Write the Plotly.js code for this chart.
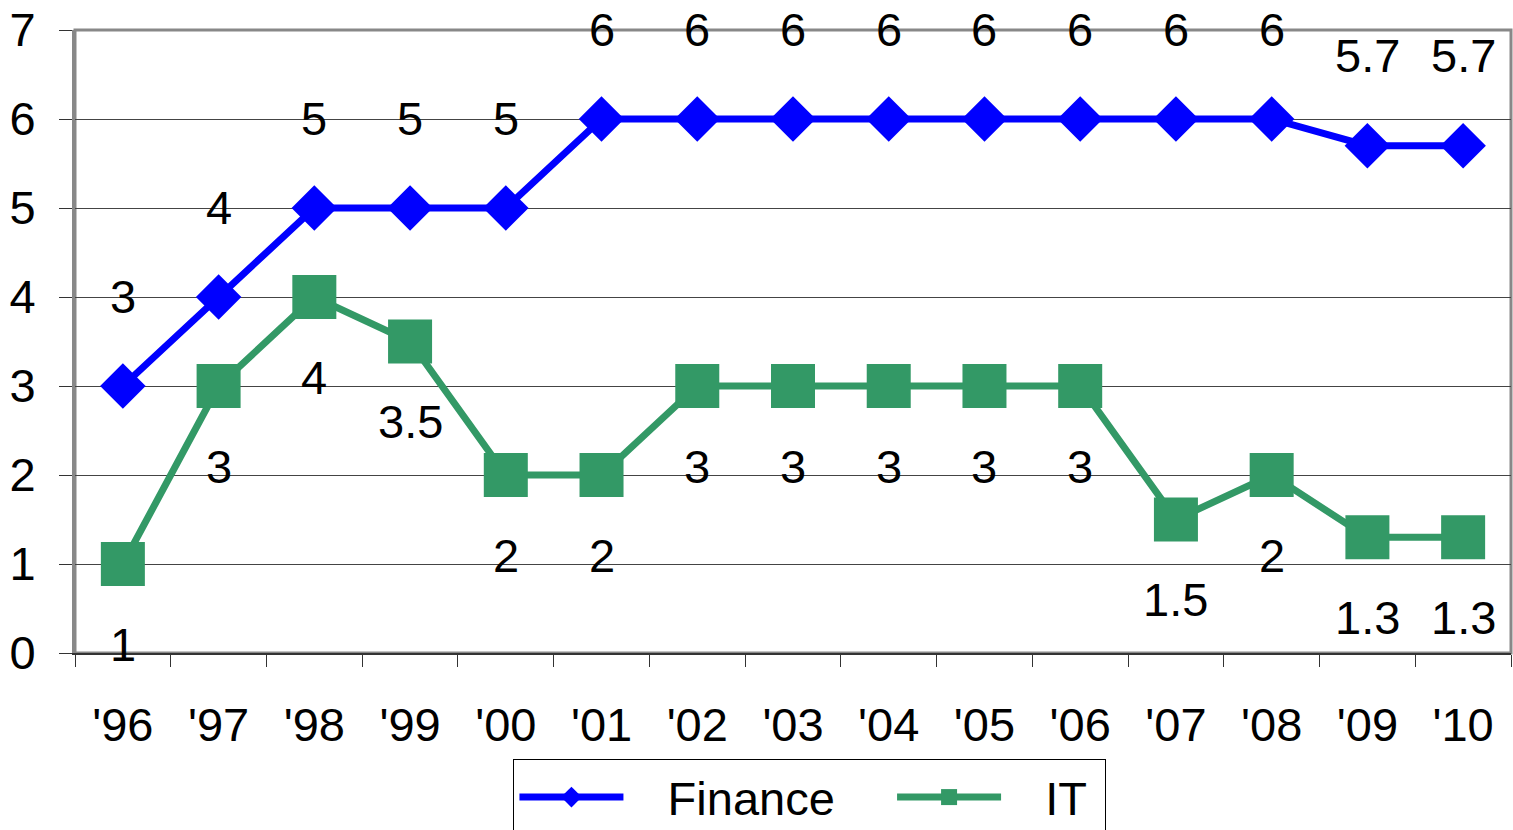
<!DOCTYPE html>
<html><head><meta charset="utf-8">
<script src="https://cdn.plot.ly/plotly-3.0.1.min.js"></script>
<style>html,body{margin:0;padding:0;background:#fff;}#chart{width:1513px;height:830px;}</style>
</head><body><div id="chart"></div>
<script>
var years = ["'96","'97","'98","'99","'00","'01","'02","'03","'04","'05","'06","'07","'08","'09","'10"];
var finance = [3,4,5,5,5,6,6,6,6,6,6,6,6,5.7,5.7];
var it = [1,3,4,3.5,2,2,3,3,3,3,3,1.5,2,1.3,1.3];
var seriesNames = ['Finance', 'IT'];
var yTicks = [0,1,2,3,4,5,6,7];

var FONT = 'Liberation Sans, Arial, sans-serif';
var FS = 47;
var NB = '\u00a0';
var traces = [
  {x: years, y: finance, name: NB + NB + NB + seriesNames[0] + NB + NB + NB + NB, type: 'scatter', mode: 'lines+markers',
   line: {color: '#0000FF', width: 7}, marker: {symbol: 'diamond', size: 35, color: '#0000FF'}, cliponaxis: false},
  {x: years, y: it, name: NB + NB + NB + seriesNames[1] + NB, type: 'scatter', mode: 'lines+markers',
   line: {color: '#339966', width: 7}, marker: {symbol: 'square', size: 44, color: '#339966'}, cliponaxis: false}
];
var annotations = [];
years.forEach(function(c, i){
  annotations.push({x: c, y: finance[i], text: String(finance[i]), showarrow: false, yshift: 90,
    font: {family: FONT, size: FS, color: '#000'}});
  annotations.push({x: c, y: it[i], text: String(it[i]), showarrow: false, yshift: -80,
    font: {family: FONT, size: FS, color: '#000'}});
});
var layout = {
  width: 1513, height: 830,
  margin: {l: 75, r: 2, t: 30, b: 177},
  paper_bgcolor: '#fff', plot_bgcolor: '#fff',
  font: {family: FONT, size: FS, color: '#000'},
  showlegend: true,
  legend: {orientation: 'h', x: 0.5118, xanchor: 'center', yref: 'container', y: 0.0855, yanchor: 'top',
    bordercolor: '#000', borderwidth: 1, font: {family: FONT, size: FS, color: '#000'}, itemwidth: 104},
  xaxis: {type: 'category', range: [-0.5, 14.5], showgrid: false, ticks: 'outside', tickson: 'boundaries',
    ticklen: 12, tickcolor: '#333', showline: true, linecolor: '#333', linewidth: 2, zeroline: false,
    tickfont: {family: FONT, size: FS}, ticklabelstandoff: 30, fixedrange: true},
  yaxis: {range: [0, 7], tickvals: yTicks, ticks: 'outside', ticklen: 13, tickcolor: '#333',
    showgrid: true, gridcolor: '#444', gridwidth: 1, zeroline: false, showline: true, linecolor: '#888', linewidth: 3,
    tickfont: {family: FONT, size: FS}, ticklabelstandoff: 14, fixedrange: true},
  shapes: [{type: 'rect', xref: 'paper', yref: 'paper', x0: 0, x1: 1, y0: 0, y1: 1,
    line: {color: '#888', width: 3}, layer: 'below'}],
  annotations: annotations
};
Plotly.newPlot('chart', traces, layout, {displayModeBar: false, staticPlot: true});
</script></body></html>
